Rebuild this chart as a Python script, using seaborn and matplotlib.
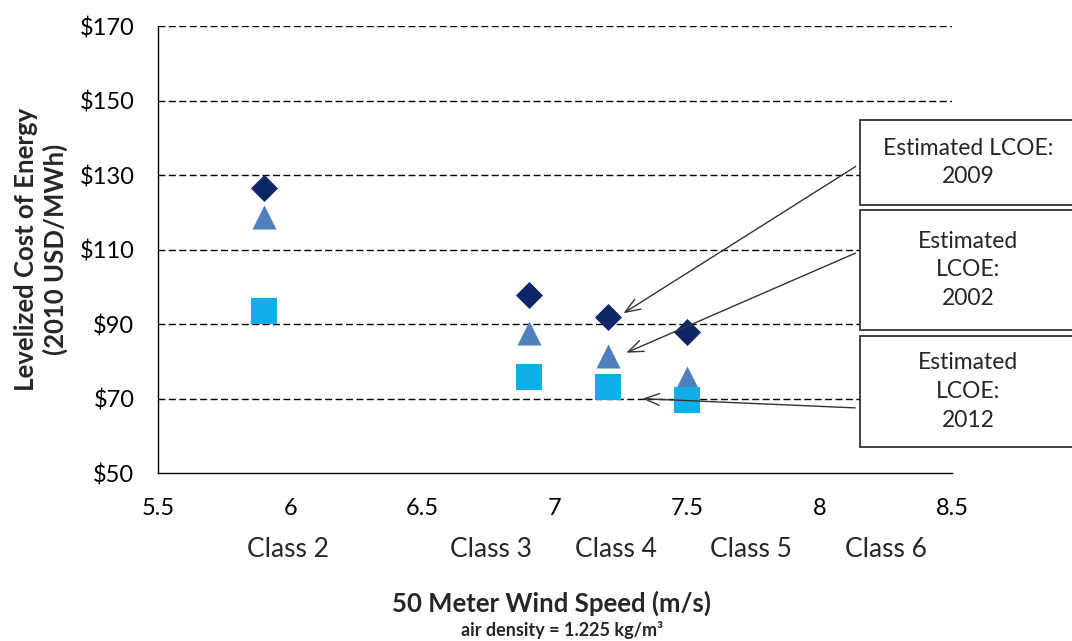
import matplotlib
matplotlib.use("Agg")
import matplotlib.pyplot as plt
import seaborn as sns
import pandas as pd
from matplotlib.patches import Rectangle

# Wind speed (m/s) at 50 m for each wind class site
wind_speed = [5.9, 6.9, 7.2, 7.5]
# Levelized cost of energy (2010 USD/MWh)
lcoe_2009 = [126.5, 97.8, 91.9, 87.9]
lcoe_2002 = [118.7, 87.6, 81.4, 75.5]
lcoe_2012 = [93.5, 75.8, 73.1, 69.6]

class_labels = ["Class 2", "Class 3", "Class 4", "Class 5", "Class 6"]
class_positions = [5.99, 6.76, 7.23, 7.74, 8.25]

x_ticks = [5.5, 6, 6.5, 7, 7.5, 8, 8.5]
y_ticks = [50, 70, 90, 110, 130, 150, 170]

series_names = ["2009", "2002", "2012"]
series_values = [lcoe_2009, lcoe_2002, lcoe_2012]

rows = []
for name, vals in zip(series_names, series_values):
    for x, y in zip(wind_speed, vals):
        rows.append({"speed": x, "lcoe": y, "year": name})
df = pd.DataFrame(rows)

sns.set_theme(style="white")
plt.rcParams["font.family"] = ["Lato", "DejaVu Sans"]

fig = plt.figure(figsize=(10.72, 6.41), dpi=100)
ax = fig.add_axes([0.1474, 0.262, 0.7406, 0.6974])

palette = {"2009": "#0f2666", "2002": "#4f7fbd", "2012": "#10aee9"}
markers = {"2009": "D", "2002": "^", "2012": "s"}
sizes = {"2009": 190, "2002": 300, "2012": 340}

for name in series_names:
    sub = df[df["year"] == name]
    sns.scatterplot(data=sub, x="speed", y="lcoe", color=palette[name],
                    marker=markers[name], s=sizes[name], linewidth=0,
                    ax=ax, zorder=3, legend=False)

ax.set_xlim(5.5, 8.5)
ax.set_ylim(50, 170)
ax.set_xticks(x_ticks)
ax.set_xticklabels([f"{t:g}" for t in x_ticks], fontsize=17)
ax.set_yticks(y_ticks)
ax.set_yticklabels([f"${t}" for t in y_ticks], fontsize=17)

for t in y_ticks[1:]:
    ax.axhline(t, color="black", linestyle=(0, (5, 2.5)), linewidth=1.0, zorder=1)

for side in ["top", "right"]:
    ax.spines[side].set_visible(False)
for side in ["left", "bottom"]:
    ax.spines[side].set_color("black")
    ax.spines[side].set_linewidth(1.0)

ax.tick_params(axis="both", direction="inout", length=8, width=1.0,
               colors="black", labelcolor="black")
ax.tick_params(axis="x", pad=14)
ax.tick_params(axis="y", pad=13)

ax.set_xlabel("")
ax.set_ylabel("Levelized Cost of Energy\n(2010 USD/MWh)", fontsize=18.5,
              fontweight="bold", labelpad=8, linespacing=1.25)

for lbl, pos in zip(class_labels, class_positions):
    ax.text(pos, -0.172, lbl, transform=ax.get_xaxis_transform(),
            ha="center", va="center", fontsize=19)

fig.text(552 / 1072, 1 - 603 / 641, "50 Meter Wind Speed (m/s)", ha="center",
         va="center", fontsize=18.5, fontweight="bold")
fig.text(562 / 1072, 1 - 630 / 641, "air density = 1.225 kg/m³", ha="center",
         va="center", fontsize=13, fontweight="bold")

# Callout boxes with arrows pointing at the Class 4 markers
W, H = 1072, 641
boxes = [
    ((860, 120, 215, 85), "Estimated LCOE:\n2009", (858, 165), (7.25, 92.5)),
    ((860, 210, 215, 120), "Estimated\nLCOE:\n2002", (858, 252), (7.26, 82.0)),
    ((860, 336, 215, 111), "Estimated\nLCOE:\n2012", (858, 408), (7.32, 70.0)),
]
for (bx, by, bw, bh), text, start, target in boxes:
    fig.patches.append(Rectangle((bx / W, 1 - (by + bh) / H), bw / W, bh / H,
                                 transform=fig.transFigure, facecolor="white",
                                 edgecolor="#333333", linewidth=1.3, zorder=5))
    fig.text((bx + 108) / W, 1 - (by + bh / 2) / H, text, ha="center",
             va="center", fontsize=16.5, linespacing=1.45, zorder=6)
    ax.annotate("", xy=target, xycoords="data",
                xytext=(start[0] / W, 1 - start[1] / H),
                textcoords="figure fraction",
                arrowprops=dict(arrowstyle="->,head_length=0.9,head_width=0.35",
                                color="#333333", lw=1.0),
                annotation_clip=False, zorder=4)

fig.savefig("out.png", dpi=100)
